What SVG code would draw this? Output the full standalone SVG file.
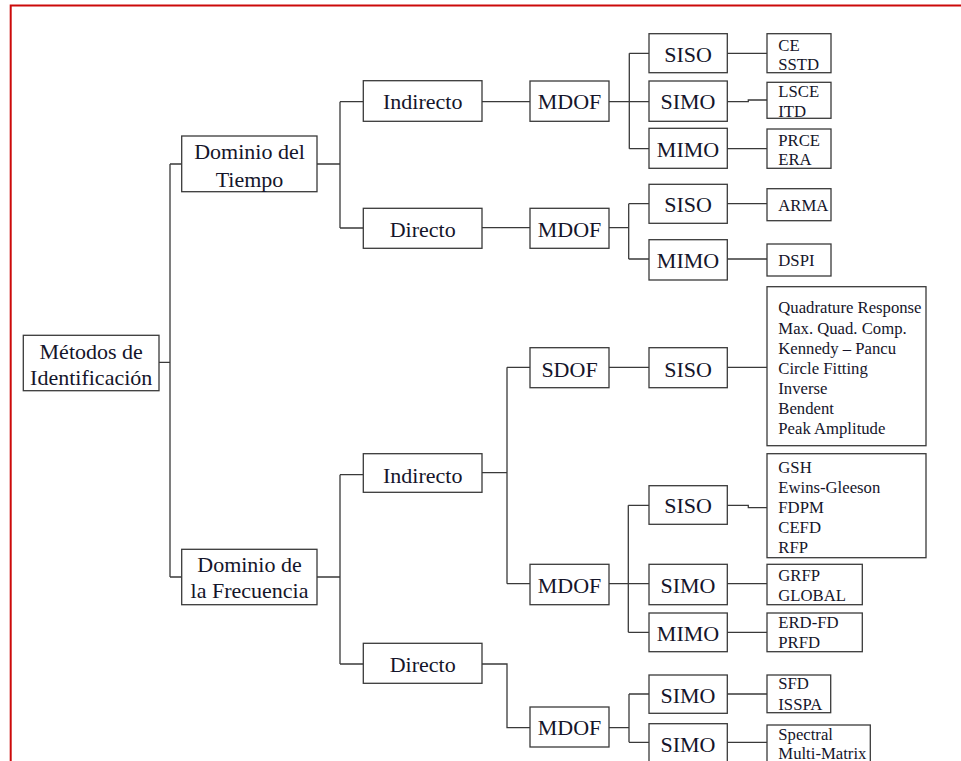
<svg xmlns="http://www.w3.org/2000/svg" width="961" height="761" viewBox="0 0 961 761">
<style>
.b{fill:#fff;stroke:#3a3a3a;stroke-width:1.3}
.t{font-family:"Liberation Serif","Times New Roman",serif;font-size:22px;fill:#15152a;text-anchor:middle}
.s{font-family:"Liberation Serif","Times New Roman",serif;font-size:16.7px;fill:#15152a}
.c path{fill:none;stroke:#3a3a3a;stroke-width:1.3}
</style>
<rect x="0" y="0" width="961" height="761" fill="#fff"/>
<rect x="10.7" y="5.5" width="990" height="800" fill="none" stroke="#cc0a0a" stroke-width="2"/>
<g class="c" id="connectors">
<path d="M159 362.3H170M170 164V577M170 164H182M170 577H182"/>
<path d="M317 164H340M340 101.7V228M340 101.7H363M340 228H363"/>
<path d="M482 101.7H530M609 101.7H649M629.3 53.3V148.7M629.3 53.3H649M629.3 148.7H649"/>
<path d="M727 53.3H767M727 101.7H748.3V100H767M727 148.7H767"/>
<path d="M482 227.7H530M609 227.7H628.7M628.7 203.7V259M628.7 203.7H649M628.7 259H649"/>
<path d="M727 203.7H767M727 259H767"/>
<path d="M317 577H340M340 474.7V664M340 474.7H363M340 664H363"/>
<path d="M482 472.7H507M507 367.3V583.7M507 367.3H530M507 583.7H530"/>
<path d="M609 367.3H649M727 367.3H767"/>
<path d="M609 583.7H649M628.3 505.3V632.3M628.3 505.3H649M628.3 632.3H649"/>
<path d="M727 505.3H748.3V507.7H767M727 583.7H767M727 632.3H767"/>
<path d="M482 664H507V727.7H530M609 727.7H629M629 694V742.3M629 694H649M629 742.3H649"/>
<path d="M727 694H767M727 742.3H767"/>
</g>
<g id="metodos"><rect class="b" x="23.3" y="335.3" width="135.7" height="55.4"/><text class="t" x="91.2" y="359">Métodos de</text><text class="t" x="91.2" y="385">Identificación</text></g>
<g id="dom-tiempo"><rect class="b" x="181.7" y="136" width="135.3" height="55.7"/><text class="t" x="249.5" y="159.3">Dominio del</text><text class="t" x="249.5" y="186.7">Tiempo</text></g>
<g id="dom-frec"><rect class="b" x="181.7" y="549.3" width="135.3" height="55.4"/><text class="t" x="249.5" y="572.3">Dominio de</text><text class="t" x="249.5" y="598.3">la Frecuencia</text></g>
<g id="t-indirecto"><rect class="b" x="363.3" y="80.7" width="118.7" height="40.6"/><text class="t" x="422.7" y="109.3">Indirecto</text></g>
<g id="t-directo"><rect class="b" x="363.3" y="208.3" width="118.7" height="40"/><text class="t" x="422.7" y="236.7">Directo</text></g>
<g id="f-indirecto"><rect class="b" x="363.3" y="453.7" width="118.7" height="38.6"/><text class="t" x="422.7" y="482.7">Indirecto</text></g>
<g id="f-directo"><rect class="b" x="363.3" y="643.3" width="118.7" height="40"/><text class="t" x="422.7" y="672.3">Directo</text></g>
<g id="ti-mdof"><rect class="b" x="530" y="81" width="79" height="40.3"/><text class="t" x="569.5" y="109.3">MDOF</text></g>
<g id="td-mdof"><rect class="b" x="530" y="208.3" width="79" height="40"/><text class="t" x="569.5" y="236.7">MDOF</text></g>
<g id="fi-sdof"><rect class="b" x="530" y="347.7" width="79" height="40"/><text class="t" x="569.5" y="376.7">SDOF</text></g>
<g id="fi-mdof"><rect class="b" x="530" y="564.3" width="79" height="40.4"/><text class="t" x="569.5" y="592.7">MDOF</text></g>
<g id="fd-mdof"><rect class="b" x="530" y="707" width="79" height="40"/><text class="t" x="569.5" y="735">MDOF</text></g>
<g id="ti-siso"><rect class="b" x="649" y="33.7" width="78.3" height="39"/><text class="t" x="688" y="61.7">SISO</text></g>
<g id="ti-simo"><rect class="b" x="649" y="81" width="78.3" height="40.3"/><text class="t" x="688" y="109.3">SIMO</text></g>
<g id="ti-mimo"><rect class="b" x="649" y="128.3" width="78.3" height="40"/><text class="t" x="688" y="156.7">MIMO</text></g>
<g id="td-siso"><rect class="b" x="649" y="184.3" width="78.3" height="39"/><text class="t" x="688" y="211.7">SISO</text></g>
<g id="td-mimo"><rect class="b" x="649" y="239.7" width="78.3" height="40.3"/><text class="t" x="688" y="267.7">MIMO</text></g>
<g id="fs-siso"><rect class="b" x="649" y="347.7" width="78.3" height="40"/><text class="t" x="688" y="376.7">SISO</text></g>
<g id="fi-siso"><rect class="b" x="649" y="485.7" width="78.3" height="38.6"/><text class="t" x="688" y="513.3">SISO</text></g>
<g id="fi-simo"><rect class="b" x="649" y="564.3" width="78.3" height="40.4"/><text class="t" x="688" y="592.7">SIMO</text></g>
<g id="fi-mimo"><rect class="b" x="649" y="613" width="78.3" height="38.7"/><text class="t" x="688" y="640.7">MIMO</text></g>
<g id="fd-simo1"><rect class="b" x="649" y="675" width="78.3" height="38.3"/><text class="t" x="688" y="702.7">SIMO</text></g>
<g id="fd-simo2"><rect class="b" x="649" y="723.7" width="78.3" height="40"/><text class="t" x="688" y="751.7">SIMO</text></g>
<g id="l-ce"><rect class="b" x="767" y="33.7" width="64" height="39"/><text class="s" x="778.3" y="50.7">CE</text><text class="s" x="778.3" y="70">SSTD</text></g>
<g id="l-lsce"><rect class="b" x="767" y="82.3" width="64" height="36"/><text class="s" x="778.3" y="97.3">LSCE</text><text class="s" x="778.3" y="116.7">ITD</text></g>
<g id="l-prce"><rect class="b" x="767" y="129" width="64" height="39.3"/><text class="s" x="778.3" y="145.7">PRCE</text><text class="s" x="778.3" y="165">ERA</text></g>
<g id="l-arma"><rect class="b" x="767" y="188.7" width="64" height="32"/><text class="s" x="778.3" y="210.7">ARMA</text></g>
<g id="l-dspi"><rect class="b" x="767" y="244" width="64" height="32"/><text class="s" x="778.3" y="266">DSPI</text></g>
<g id="l-quad"><rect class="b" x="767" y="286.7" width="159" height="159"/>
<text class="s" x="778.3" y="313.3">Quadrature Response</text>
<text class="s" x="778.3" y="333.5">Max. Quad. Comp.</text>
<text class="s" x="778.3" y="353.5">Kennedy – Pancu</text>
<text class="s" x="778.3" y="373.7">Circle Fitting</text>
<text class="s" x="778.3" y="393.5">Inverse</text>
<text class="s" x="778.3" y="413.5">Bendent</text>
<text class="s" x="778.3" y="434">Peak Amplitude</text></g>
<g id="l-gsh"><rect class="b" x="767" y="453.7" width="159" height="104"/>
<text class="s" x="778.3" y="473.3">GSH</text>
<text class="s" x="778.3" y="492.8">Ewins-Gleeson</text>
<text class="s" x="778.3" y="513">FDPM</text>
<text class="s" x="778.3" y="532.5">CEFD</text>
<text class="s" x="778.3" y="552.5">RFP</text></g>
<g id="l-grfp"><rect class="b" x="767" y="564.3" width="95.3" height="40.4"/><text class="s" x="778.3" y="580.7">GRFP</text><text class="s" x="778.3" y="601">GLOBAL</text></g>
<g id="l-erd"><rect class="b" x="767" y="613" width="95.3" height="38.7"/><text class="s" x="778.3" y="628.3">ERD-FD</text><text class="s" x="778.3" y="648.3">PRFD</text></g>
<g id="l-sfd"><rect class="b" x="767" y="675" width="63.7" height="37.7"/><text class="s" x="778.3" y="689.3">SFD</text><text class="s" x="778.3" y="710">ISSPA</text></g>
<g id="l-spectral"><rect class="b" x="767" y="725" width="103.3" height="40"/><text class="s" x="778.3" y="740">Spectral</text><text class="s" x="778.3" y="759">Multi-Matrix</text></g>
</svg>
